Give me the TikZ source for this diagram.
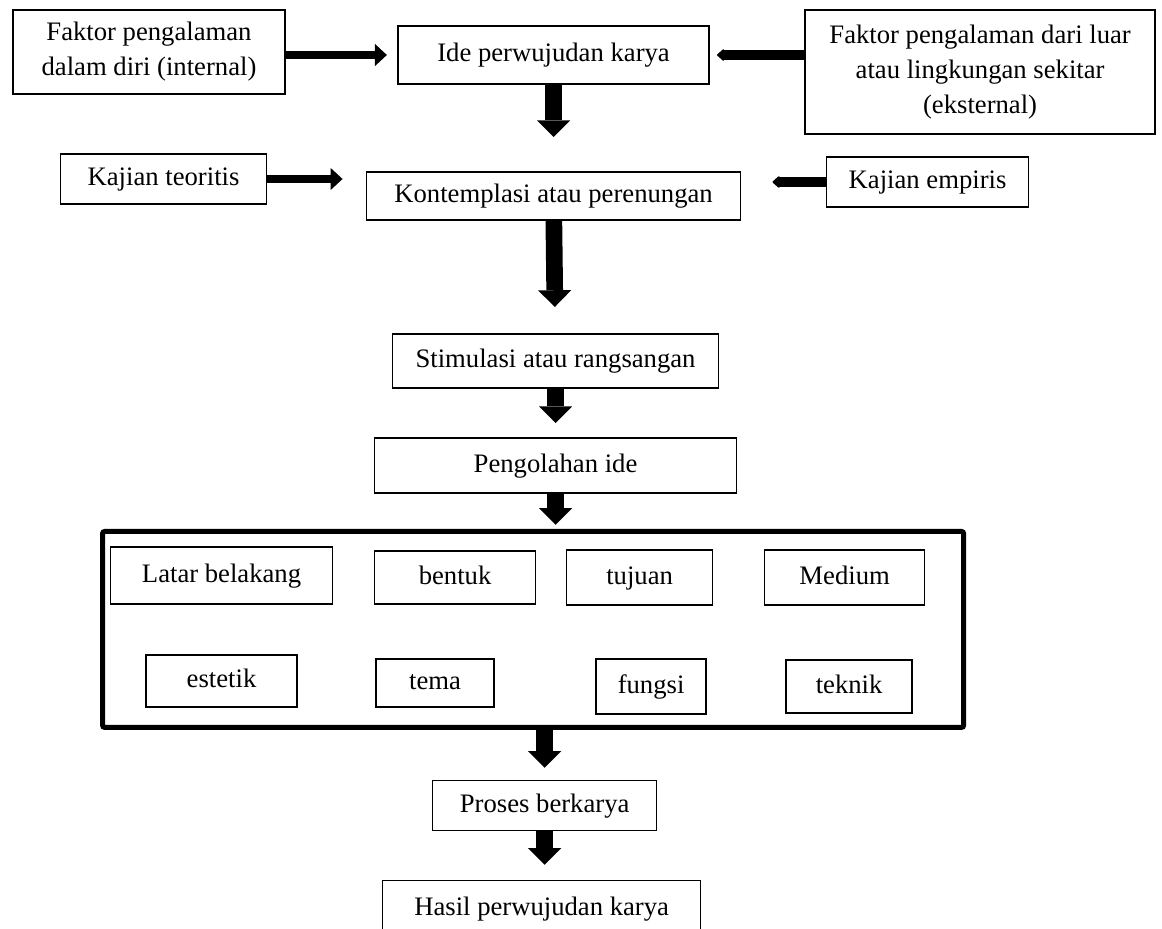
\documentclass[tikz,border=0pt]{standalone}
\usepackage{fontspec}
\setmainfont{Liberation Serif}
\usepackage{tikz}
\usetikzlibrary{positioning, calc}
\usetikzlibrary{arrows.meta}

\begin{document}
\begin{tikzpicture}[font=\fontsize{12pt}{15.75pt}\selectfont, align=center,
        kotakbesar/.style={draw, line width=0.6pt, inner sep=0pt, outer sep=0pt},
        kotak/.style={kotakbesar, text height=8.5pt, text depth=2.5pt},
        panahbawah/.style={line width=7.5pt, -{Triangle[width=15pt, length=7.5pt, line width=0pt]}},
        panahkanan/.style={line width=4pt, -{Triangle[width=10pt, length=5.4pt, line width=0pt]}},
        panahkiri/.style={line width=4.5pt, -{Triangle[width=6pt, length=3.5pt, line width=1pt, round]}}]

        \useasboundingbox (-249.1pt,24.75pt) rectangle (273.8pt,-393.3pt);

        % Nodes
        \node[kotak, minimum width=140pt, minimum height=26.1pt] (ide) {Ide perwujudan karya};
        \node[kotakbesar, minimum width=122.4pt, minimum height=37.8pt, left=50.85pt of ide, yshift=1.35pt] (internal) {Faktor pengalaman\\dalam diri (internal)};
        \node[kotakbesar, minimum width=157.5pt, minimum height=55.8pt, right=43.2pt of ide, yshift=-7.65pt] (eksternal) {Faktor pengalaman dari luar\\atau lingkungan sekitar\\(eksternal)};

        \node[kotak, minimum width=168.3pt, minimum height=21.6pt, below=39.6pt of ide] (kontemplasi) {Kontemplasi atau perenungan};
        \node[kotak, minimum width=92.7pt, minimum height=22.5pt, left=45pt of kontemplasi, yshift=7.65pt] (teoritis) {Kajian teoritis};
        \node[kotak, minimum width=90.9pt, minimum height=22.5pt, right=38.7pt of kontemplasi, yshift=6.3pt] (empiris) {Kajian empiris};

        \node[kotak, minimum width=146.7pt, minimum height=24.3pt, below=51.3pt of kontemplasi, xshift=0.9pt] (stimulasi) {Stimulasi atau rangsangan};
        \node[kotak, minimum width=162.9pt, minimum height=24.75pt, below=22.5pt of stimulasi] (pengolahan) {Pengolahan ide};

        \node[draw, line width=2.25pt, rounded corners=1pt, inner sep=0pt, outer sep=0pt, minimum width=387.5pt, minimum height=88.2pt, below=17.3pt of pengolahan, xshift=-10.1pt] (wadah) {};

        \node[kotak, minimum width=99.9pt, minimum height=25.65pt, below right=7pt and 3.6pt of wadah.north west] (latar) {Latar belakang};
        \node[kotak, minimum width=72.5pt, minimum height=23.85pt, right=18.9pt of latar, yshift=-0.9pt] (bentuk) {bentuk};
        \node[kotak, minimum width=65.7pt, minimum height=24.75pt, right=13.95pt of bentuk] (tujuan) {tujuan};
        \node[kotak, minimum width=72pt, minimum height=24.75pt, right=23.4pt of tujuan] (medium) {Medium};

        \node[kotak, minimum width=68pt, minimum height=23.4pt, below=22.95pt of latar] (estetik) {estetik};
        \node[kotak, minimum width=53.1pt, minimum height=21.6pt, right=35.55pt of estetik, yshift=-0.9pt] (tema) {tema};
        \node[kotak, minimum width=49.5pt, minimum height=24.75pt, right=45.9pt of tema, yshift=-1.6pt] (fungsi) {fungsi};
        \node[kotak, minimum width=56.7pt, minimum height=23.85pt, right=36pt of fungsi] (teknik) {teknik};

        \node[kotak, minimum width=100.8pt, minimum height=22.5pt, below=24pt of wadah, xshift=5.2pt] (proses) {Proses berkarya};
        \node[kotak, minimum width=143.1pt, minimum height=25.2pt, below=22.5pt of proses, xshift=-1.35pt] (hasil) {Hasil perwujudan karya};

        % Edges
        \draw[panahkanan, shorten >=5pt] (internal.east |- ide) -- (ide.west);
        \draw[panahkiri, shorten >=3.6pt] (eksternal.west |- ide) -- (ide.east);
        \draw[panahbawah, shorten >=15.75pt] (ide) -- (kontemplasi);
        \draw[panahkanan, shorten >=10.8pt] (teoritis.east) -- (teoritis.east -| kontemplasi.west);
        \draw[panahkiri, shorten >=14.4pt] (empiris.west) -- (empiris.west -| kontemplasi.east);
        \draw[panahbawah, shorten >=12.2pt] (kontemplasi) -- (stimulasi);
        \draw[panahbawah, shorten >=6.75pt] (stimulasi) -- (pengolahan);
        \draw[panahbawah, shorten >=3pt] (pengolahan.south) -- (pengolahan.south |- wadah.north);
        \draw[panahbawah, shorten >=5.85pt] (wadah.south -| proses) -- (proses);
        \draw[panahbawah, shorten >=7.2pt] (proses.south) -- (proses.south |- hasil.north);
    \end{tikzpicture}
\end{document}
